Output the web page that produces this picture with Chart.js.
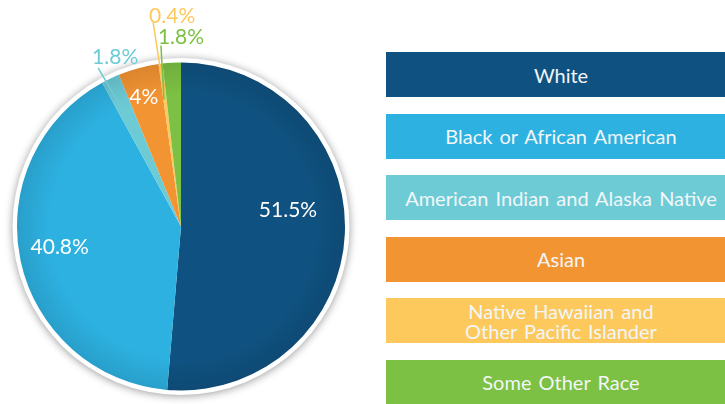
<!DOCTYPE html>
<html><head><meta charset="utf-8">
<script src="https://cdn.jsdelivr.net/npm/chart.js@4"></script>
<style>
html,body{margin:0;padding:0;background:#fff;overflow:hidden;width:725px;height:404px}
#wrap{position:absolute;left:0;top:0;width:362px;height:404px}
#legend{position:absolute;left:386px;top:0;width:360px;height:404px}
.item{position:absolute;left:0;width:350px;height:45px;display:flex;align-items:center;justify-content:center;text-align:center;font-family:Lato,"Noto Sans",sans-serif;font-size:20px;word-spacing:2px;color:#f2f6f8;line-height:20px;white-space:pre}
</style></head>
<body>
<div id="wrap"><canvas id="c"></canvas></div>
<div id="legend"></div>
<script>
const categories = ["White","Black or African American","American Indian and Alaska Native","Asian","Native Hawaiian and\nOther Pacific Islander","Some Other Race"];
const values = [51.5, 40.8, 1.8, 4, 0.4, 1.8];
const valueLabels = ["51.5%","40.8%","1.8%","4%","0.4%","1.8%"];
const colors = ["#0f5281","#2db1e1","#6dcbd6","#f39433","#fdc95d","#7cc143"];

// label placement styles (radius fraction / angle tweak in degrees)
const labelStyle = [
  {mode:'in', rf:0.66, da:-11},
  {mode:'in', rf:0.75, da:2.4},
  {mode:'out', rin:0.78, dIn:-1, rout:179, dOut:-2.1, dx:-6, dy:-4},
  {mode:'in', rf:0.82, da:-1},
  {mode:'out', rin:0.78, dIn:0, rout:206, dOut:-0.6, dx:-4, dy:1},
  {mode:'out', rin:0.78, dIn:-4.4, rout:182, dOut:-3.1, dx:-3, dy:-2}
];

// legend
const legend = document.getElementById('legend');
categories.forEach((c,i)=>{
  const d = document.createElement('div');
  d.className='item';
  d.style.top = (52 + i*61.5) + 'px';
  d.style.background = colors[i];
  d.textContent = c;
  legend.appendChild(d);
});

const deg = Math.PI/180;
const decor = {
  id:'decor',
  beforeDatasetsDraw(chart){
    const a = chart.getDatasetMeta(0).data[0];
    const ctx = chart.ctx;
    ctx.save();
    ctx.shadowColor='rgba(0,0,0,0.4)';
    ctx.shadowBlur=9;
    ctx.shadowOffsetY=1;
    ctx.fillStyle='#fff';
    ctx.beginPath();
    ctx.arc(a.x,a.y,a.outerRadius+4.5,0,Math.PI*2);
    ctx.fill();
    ctx.restore();
  },
  afterDatasetsDraw(chart){
    const meta = chart.getDatasetMeta(0);
    const ctx = chart.ctx;
    const a0 = meta.data[0];
    ctx.save();
    const g = ctx.createRadialGradient(a0.x,a0.y,a0.outerRadius*0.8,a0.x,a0.y,a0.outerRadius);
    g.addColorStop(0,'rgba(0,0,0,0)');
    g.addColorStop(1,'rgba(0,0,0,0.10)');
    ctx.fillStyle=g;
    ctx.beginPath();
    ctx.arc(a0.x,a0.y,a0.outerRadius,0,Math.PI*2);
    ctx.fill();
    ctx.restore();

    ctx.save();
    ctx.font = '21px Lato, "Noto Sans", sans-serif';
    meta.data.forEach((arc,i)=>{
      const s = labelStyle[i];
      const mid = (arc.startAngle+arc.endAngle)/2;
      const R = arc.outerRadius;
      if(s.mode==='in'){
        const ang = mid + s.da*deg;
        ctx.fillStyle='#ffffff';
        ctx.textAlign='center';
        ctx.textBaseline='middle';
        ctx.fillText(valueLabels[i], arc.x + R*s.rf*Math.cos(ang), arc.y + R*s.rf*Math.sin(ang));
      } else {
        const ai = mid + s.dIn*deg, ao = mid + s.dOut*deg;
        const x1 = arc.x + R*s.rin*Math.cos(ai), y1 = arc.y + R*s.rin*Math.sin(ai);
        const x2 = arc.x + s.rout*Math.cos(ao), y2 = arc.y + s.rout*Math.sin(ao);
        ctx.strokeStyle = colors[i];
        ctx.lineWidth = 1.5;
        ctx.beginPath(); ctx.moveTo(x1,y1); ctx.lineTo(x2,y2); ctx.stroke();
        ctx.fillStyle = colors[i];
        ctx.textAlign='left';
        ctx.textBaseline='alphabetic';
        ctx.fillText(valueLabels[i], x2 + s.dx, y2 + s.dy);
      }
    });
    ctx.restore();
  }
};

new Chart(document.getElementById('c'), {
  type:'pie',
  data:{ labels: categories, datasets:[{ data: values, backgroundColor: colors, borderWidth:0 }]},
  options:{
    responsive:true, maintainAspectRatio:false, animation:false,
    layout:{ padding:{ left:17, right:17, top:62.5, bottom:13.5 } },
    plugins:{ legend:{display:false}, tooltip:{enabled:false} }
  },
  plugins:[decor]
});
</script>
</body></html>
